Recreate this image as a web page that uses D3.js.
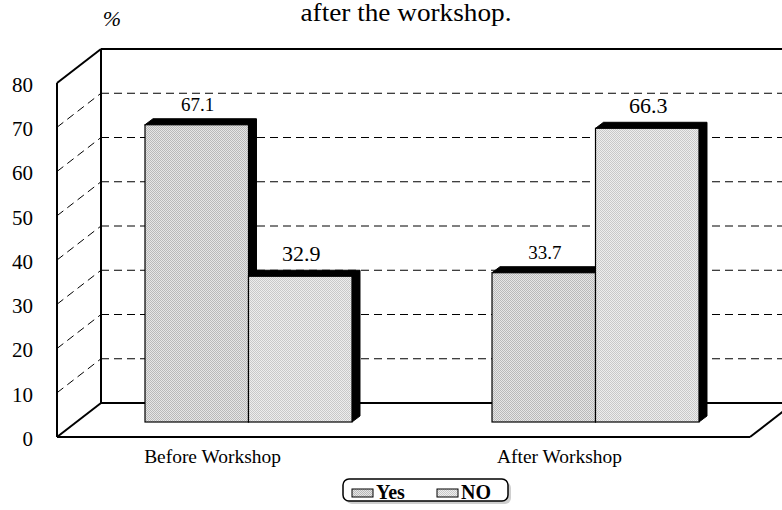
<!DOCTYPE html>
<html><head><meta charset="utf-8">
<script src="https://cdn.jsdelivr.net/npm/d3@7"></script>
<style>body{margin:0;background:#fff}svg{display:block}svg text{font-family:"Liberation Serif","Times New Roman",serif}</style>
</head><body>
<svg id="c" width="782" height="510"></svg>
<script>
const categories = ["Before Workshop", "After Workshop"];
const seriesNames = ["Yes", "NO"];
const yesValues = [67.1, 33.7];
const noValues = [32.9, 66.3];
const yTicks = [0, 10, 20, 30, 40, 50, 60, 70, 80];
const titleText = "after the workshop.";
const unitText = "%";

const svg = d3.select("#c");
const W = 782;
const DX = 44, DY = 34;
const frontX = 57;
const yFront = d3.scaleLinear().domain([0, 80]).range([437, 83]);
const yBack = d3.scaleLinear().domain([0, 80]).range([437 - DY, 83 - DY]);
const yBar = d3.scaleLinear().domain([0, 80]).range([422, 422 - 80 * 4.43]);
const x = d3.scaleBand().domain(categories).range([101, 743]).paddingInner(0.4035).paddingOuter(0.1268);
const xs = d3.scaleBand().domain(seriesNames).range([0, x.bandwidth()]);

const defs = svg.append("defs");
function pat(id, bg, dot) {
  const p = defs.append("pattern").attr("id", id).attr("width", 2).attr("height", 2).attr("patternUnits", "userSpaceOnUse");
  p.append("rect").attr("width", 2).attr("height", 2).attr("fill", bg);
  p.append("rect").attr("x", 0).attr("y", 0).attr("width", 1).attr("height", 1).attr("fill", dot);
  p.append("rect").attr("x", 1).attr("y", 1).attr("width", 1).attr("height", 1).attr("fill", dot);
}
pat("pYes", "#e6e6e6", "#b9b9b9");
pat("pNo", "#eeeeee", "#c9c9c9");
const fills = {Yes: "url(#pYes)", NO: "url(#pNo)"};

svg.append("text").attr("x", 406).attr("y", 21).attr("text-anchor", "middle")
  .attr("font-size", 25).attr("textLength", 211).attr("lengthAdjust", "spacingAndGlyphs")
  .text(titleText);
svg.append("text").attr("x", 112).attr("y", 26).attr("text-anchor", "middle")
  .attr("font-size", 22).attr("font-style", "italic").text(unitText);

const backX = frontX + DX;
const grid = svg.append("g").attr("stroke", "#000").attr("stroke-width", 1).attr("stroke-dasharray", "8,5");
yTicks.filter(v => v > 0 && v < 80).forEach(v => {
  grid.append("line").attr("x1", backX).attr("x2", W).attr("y1", yBack(v)).attr("y2", yBack(v));
  grid.append("line").attr("x1", frontX).attr("y1", yFront(v)).attr("x2", backX).attr("y2", yBack(v));
});

const wall = svg.append("g").attr("stroke", "#000").attr("stroke-width", 2).attr("fill", "none");
wall.append("line").attr("x1", backX).attr("x2", W).attr("y1", yBack(80)).attr("y2", yBack(80));
wall.append("line").attr("x1", backX).attr("x2", backX).attr("y1", yBack(80)).attr("y2", yBack(0));
wall.append("line").attr("x1", backX).attr("x2", W).attr("y1", yBack(0)).attr("y2", yBack(0));
wall.append("line").attr("x1", frontX).attr("x2", frontX).attr("y1", yFront(80)).attr("y2", yFront(0));
wall.append("line").attr("x1", frontX).attr("x2", backX).attr("y1", yFront(80)).attr("y2", yBack(80));
wall.append("line").attr("x1", frontX).attr("x2", backX).attr("y1", yFront(0)).attr("y2", yBack(0));
const floorRight = 750;
wall.append("line").attr("x1", frontX).attr("x2", floorRight).attr("y1", yFront(0)).attr("y2", yFront(0));
wall.append("line").attr("x1", floorRight).attr("x2", floorRight + DX).attr("y1", yFront(0)).attr("y2", yBack(0));

const axis = d3.axisLeft(yFront).tickValues(yTicks).tickSize(0).tickPadding(24);
const ag = svg.append("g").attr("transform", `translate(${frontX},0)`).call(axis);
ag.select(".domain").remove();
ag.attr("font-family", null);
ag.selectAll("text").attr("font-size", 21).attr("fill", "#000").attr("dy", "0.4em");

const bd = 8, bdy = 6;
const data = [];
categories.forEach((c, i) => {
  data.push({cat: c, s: "Yes", v: yesValues[i]});
  data.push({cat: c, s: "NO", v: noValues[i]});
});
const bars = svg.append("g");
data.forEach(d => {
  const x0 = x(d.cat) + xs(d.s), x1 = x0 + xs.bandwidth();
  const t = yBar(d.v), b = yBar(0);
  const g = bars.append("g");
  g.append("polygon").attr("points", [[x0, t], [x0 + bd, t - bdy], [x1 + bd, t - bdy], [x1 + bd, b - bdy], [x1, b]].map(p => p.join(",")).join(" "))
    .attr("fill", "#000").attr("stroke", "#000").attr("stroke-width", 1);
  g.append("rect").attr("x", x0).attr("y", t).attr("width", x1 - x0).attr("height", b - t)
    .attr("fill", fills[d.s]).attr("stroke", "#000").attr("stroke-width", 1.2);
  g.append("text").attr("x", (x0 + x1) / 2 + 1).attr("y", d.s === "Yes" ? t - 14 : t - 15)
    .attr("text-anchor", "middle")
    .attr("font-size", d.s === "Yes" ? 19 : 22).text(d.v.toFixed(1));
});

categories.forEach(c => {
  const cx = x(c) + x.bandwidth() / 2 - 36;
  svg.append("g").attr("transform", `translate(${cx},463) scale(1.08,1)`)
    .append("text").attr("text-anchor", "middle").attr("font-size", 18).text(c);
});

const lg = svg.append("g");
lg.append("rect").attr("x", 346).attr("y", 482).attr("width", 165).attr("height", 22).attr("rx", 6).attr("fill", "#cfcfcf");
lg.append("rect").attr("x", 343).attr("y", 479).attr("width", 165).attr("height", 22).attr("rx", 6)
  .attr("fill", "#fff").attr("stroke", "#000").attr("stroke-width", 1.5);
const lx = {Yes: 352, NO: 437};
seriesNames.forEach(s => {
  lg.append("rect").attr("x", lx[s]).attr("y", 489).attr("width", 21).attr("height", 8)
    .attr("fill", fills[s]).attr("stroke", "#000").attr("stroke-width", 1);
  lg.append("text").attr("x", lx[s] + 24).attr("y", 499)
    .attr("font-weight", "bold").attr("font-size", 20).text(s);
});
</script>
</body></html>
